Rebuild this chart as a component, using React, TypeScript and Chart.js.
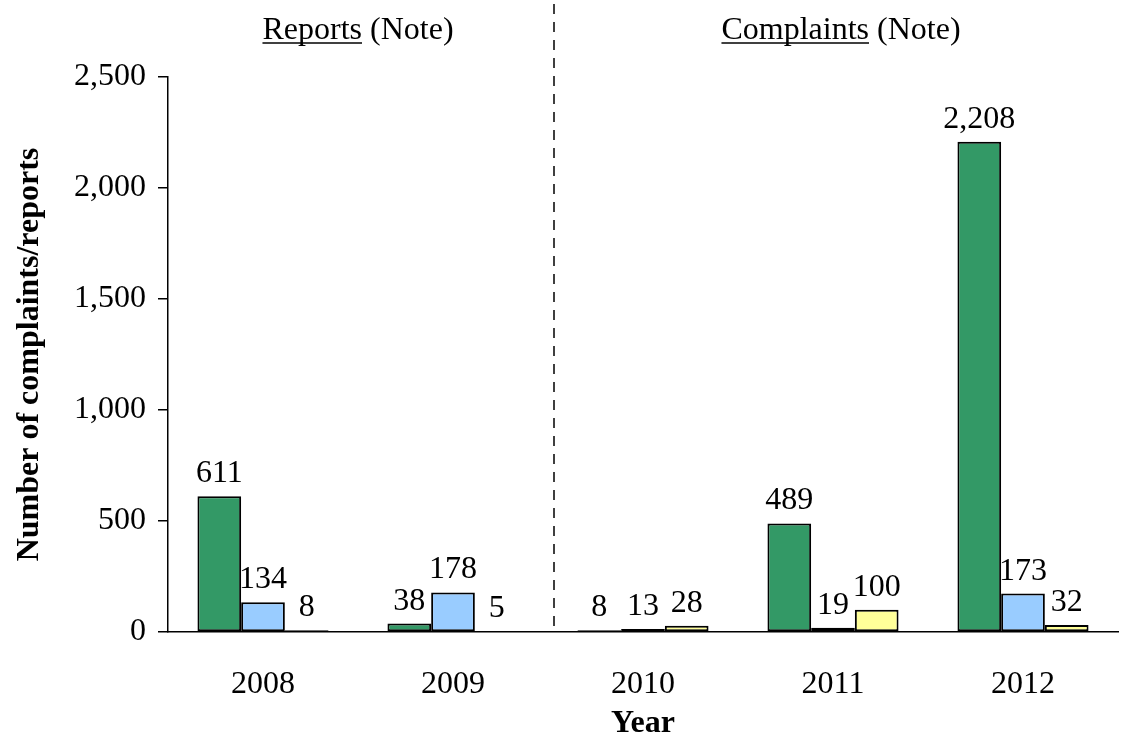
import React, { useEffect, useRef } from "react";
import { Chart, registerables } from "chart.js";

Chart.register(...registerables);

const years = ["2008", "2009", "2010", "2011", "2012"];
const greenValues = [611, 38, 8, 489, 2208];
const blueValues = [134, 178, 13, 19, 173];
const yellowValues = [8, 5, 28, 100, 32];
const yMax = 2500;
const yStep = 500;
const reportsTitle = ["Reports", " (Note)"];
const complaintsTitle = ["Complaints", " (Note)"];
const xTitle = "Year";
const yTitle = "Number of complaints/reports";

const FONT = "'Liberation Serif', 'Times New Roman', serif";
const FS = 32;

const fmt = (v: number) => v.toLocaleString("en-US");

const overlayPlugin = {
  id: "overlay",
  afterDatasetsDraw(chart: any) {
    const ctx = chart.ctx;
    ctx.save();
    ctx.fillStyle = "#000";
    ctx.font = `${FS}px ${FONT}`;
    ctx.textAlign = "center";
    ctx.textBaseline = "alphabetic";
    chart.data.datasets.forEach((ds: any, di: number) => {
      const meta = chart.getDatasetMeta(di);
      meta.data.forEach((el: any, i: number) => {
        ctx.fillText(fmt(ds.data[i]), el.x, el.y - 14);
      });
    });
    ctx.restore();
  },
  afterDraw(chart: any) {
    const ctx = chart.ctx;
    const x = chart.scales.x;
    const area = chart.chartArea;
    ctx.save();
    const sepX = (x.getPixelForValue(1) + x.getPixelForValue(2)) / 2 + 6;
    ctx.strokeStyle = "#000";
    ctx.lineWidth = 1.5;
    ctx.setLineDash([10, 8]);
    ctx.beginPath();
    ctx.moveTo(sepX, 4);
    ctx.lineTo(sepX, area.bottom);
    ctx.stroke();
    ctx.setLineDash([]);

    ctx.font = `${FS}px ${FONT}`;
    ctx.fillStyle = "#000";
    ctx.textBaseline = "alphabetic";
    ctx.textAlign = "left";
    const drawTitle = (parts: string[], cx: number) => {
      const w1 = ctx.measureText(parts[0]).width;
      const w2 = ctx.measureText(parts[1]).width;
      const start = cx - (w1 + w2) / 2;
      const base = 39;
      ctx.fillText(parts[0], start, base);
      ctx.fillText(parts[1], start + w1, base);
      ctx.lineWidth = 1.5;
      ctx.beginPath();
      ctx.moveTo(start, base + 4);
      ctx.lineTo(start + w1, base + 4);
      ctx.stroke();
    };
    drawTitle(reportsTitle, (x.getPixelForValue(0) + x.getPixelForValue(1)) / 2);
    drawTitle(complaintsTitle, x.getPixelForValue(3) + 8);
    ctx.restore();
  },
};

export default function App() {
  const ref = useRef<HTMLCanvasElement | null>(null);
  useEffect(() => {
    if (!ref.current) return;
    const barBase = {
      borderColor: "#000",
      borderWidth: 2,
      borderSkipped: false as const,
      categoryPercentage: 0.69,
      barPercentage: 1.0,
    };
    const chart = new Chart(ref.current, {
      type: "bar",
      data: {
        labels: years,
        datasets: [
          { ...barBase, label: "Green", data: greenValues, backgroundColor: "#339966" },
          { ...barBase, label: "Blue", data: blueValues, backgroundColor: "#99CCFF" },
          { ...barBase, label: "Yellow", data: yellowValues, backgroundColor: "#FFFF99" },
        ],
      },
      options: {
        responsive: false,
        maintainAspectRatio: false,
        animation: false,
        layout: { padding: { top: 77, right: 4, bottom: 0, left: 0 } },
        plugins: {
          legend: { display: false },
          tooltip: { enabled: false },
        },
        scales: {
          x: {
            grid: { display: true, drawOnChartArea: false, drawTicks: false },
            border: { display: true, color: "#000", width: 1.5 },
            ticks: { color: "#000", font: { family: FONT, size: FS }, padding: 33 },
            title: {
              display: true,
              text: xTitle,
              color: "#000",
              font: { family: FONT, size: FS, weight: "bold" },
              padding: { top: 0, bottom: -3 },
            },
            afterFit: (s: any) => {
              s.height = 108;
            },
          },
          y: {
            min: 0,
            max: yMax,
            grid: { display: true, drawOnChartArea: false, drawTicks: true, tickLength: 10, color: "#000", lineWidth: 1.5 },
            border: { display: true, color: "#000", width: 1.5 },
            ticks: {
              stepSize: yStep,
              color: "#000",
              font: { family: FONT, size: FS },
              padding: 12,
              callback: (v: any) => fmt(Number(v)),
            },
            title: {
              display: true,
              text: yTitle,
              color: "#000",
              font: { family: FONT, size: FS, weight: "bold" },
              padding: { top: 11, bottom: 0 },
            },
            afterFit: (s: any) => {
              s.width = 168;
            },
          },
        },
      },
      plugins: [overlayPlugin],
    });
    return () => chart.destroy();
  }, []);
  return (
    <div style={{ position: "absolute", left: 0, top: 0, width: 1122, height: 740, background: "#fff" }}>
      <canvas ref={ref} width={1122} height={740} style={{ width: 1122, height: 740 }} />
    </div>
  );
}
